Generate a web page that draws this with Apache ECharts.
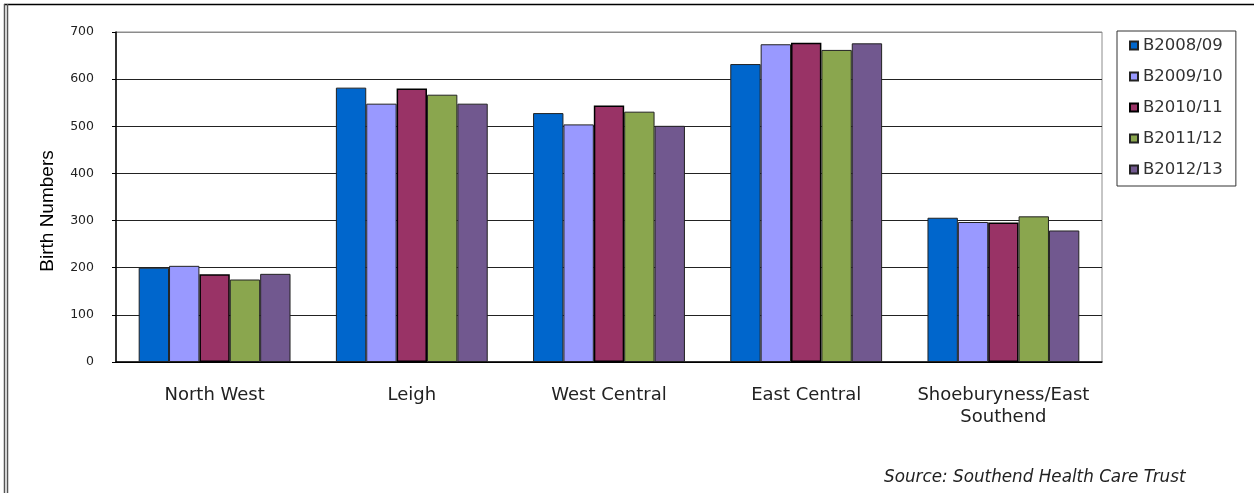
<!DOCTYPE html>
<html>
<head>
<meta charset="utf-8">
<script src="https://cdn.jsdelivr.net/npm/echarts@6/dist/echarts.min.js"></script>
<style>
html,body{margin:0;padding:0;background:#fff;}
#c{width:1254px;height:493px;}
</style>
</head>
<body>
<div id="c"></div>
<script>
const categories = ['North West', 'Leigh', 'West Central', 'East Central', 'Shoeburyness/East\nSouthend'];
const seriesNames = ['B2008/09', 'B2009/10', 'B2010/11', 'B2011/12', 'B2012/13'];
const b0809 = [200, 582, 528, 632, 306];
const b0910 = [204, 548, 504, 674, 297];
const b1011 = [186, 580, 544, 677, 296];
const b1112 = [175, 567, 531, 662, 309];
const b1213 = [187, 548, 501, 676, 279];
const seriesValues = [b0809, b0910, b1011, b1112, b1213];
const colors = ['#0066CC', '#9999FF', '#993366', '#8AA64E', '#71588F'];
const yTicks = [0, 100, 200, 300, 400, 500, 600, 700];
const yTitle = 'Birth Numbers';
const sourceText = 'Source: Southend Health Care Trust';

const chart = echarts.init(document.getElementById('c'));
const font = '"Liberation Sans", Arial, sans-serif';
const wide = '"DejaVu Sans", sans-serif';
chart.setOption({
  animation: false,
  textStyle: { fontFamily: font },
  grid: { left: 116, right: 152, top: 32, bottom: 131, show: true, borderColor: '#8c8c8c', borderWidth: 1 },
  legend: {
    orient: 'vertical',
    left: 1117, top: 31,
    padding: [6, 13, 8, 12],
    itemWidth: 8, itemHeight: 8, itemGap: 14,
    borderColor: '#333', borderWidth: 1,
    textStyle: { fontSize: 16.5, color: '#333', fontFamily: wide },
    icon: 'rect',
    data: seriesNames
  },
  xAxis: {
    type: 'category',
    data: categories,
    axisLine: { lineStyle: { color: '#000', width: 1.5 } },
    axisTick: { length: 5, lineStyle: { color: '#000' } },
    axisLabel: { interval: 0, hideOverlap: false, fontSize: 18, color: '#222', margin: 22, lineHeight: 22, fontFamily: wide }
  },
  yAxis: {
    type: 'value',
    min: 0, max: 700, interval: 100,
    axisLine: { show: true, lineStyle: { color: '#000', width: 1.5 } },
    axisTick: { show: true, length: 4, lineStyle: { color: '#000' } },
    axisLabel: { fontSize: 12.5, color: '#222', margin: 22, fontFamily: wide, formatter: v => yTicks.includes(v) ? String(v) : '' },
    splitLine: { lineStyle: { color: ['#000', '#222', '#222', '#222', '#222', '#222', '#222', '#8c8c8c'], width: 1 } }
  },
  series: seriesNames.map((n, i) => ({
    name: n,
    type: 'bar',
    data: seriesValues[i],
    barGap: '0%',
    barCategoryGap: '23%',
    itemStyle: { color: colors[i], borderColor: i === 2 ? '#000' : '#222', borderWidth: i === 2 ? 1.5 : 1 }
  })),
  graphic: [
    { type: 'line', shape: { x1: 4, y1: 4.5, x2: 1254, y2: 4.5 }, style: { stroke: '#000', lineWidth: 1.5 } },
    { type: 'line', shape: { x1: 4.5, y1: 4, x2: 4.5, y2: 493 }, style: { stroke: '#555', lineWidth: 1.5 } },
    { type: 'line', shape: { x1: 7.5, y1: 4, x2: 7.5, y2: 493 }, style: { stroke: '#555', lineWidth: 1.5 } },
    { type: 'text', x: 48, y: 211, rotation: Math.PI / 2, style: { text: yTitle, font: '19px "Liberation Sans", Arial, sans-serif', fill: '#000', align: 'center', verticalAlign: 'middle' } },
    { type: 'text', left: 884, top: 469, style: { text: sourceText, font: 'italic 16.8px "DejaVu Sans", sans-serif', fill: '#222' } }
  ]
});
</script>
</body>
</html>
